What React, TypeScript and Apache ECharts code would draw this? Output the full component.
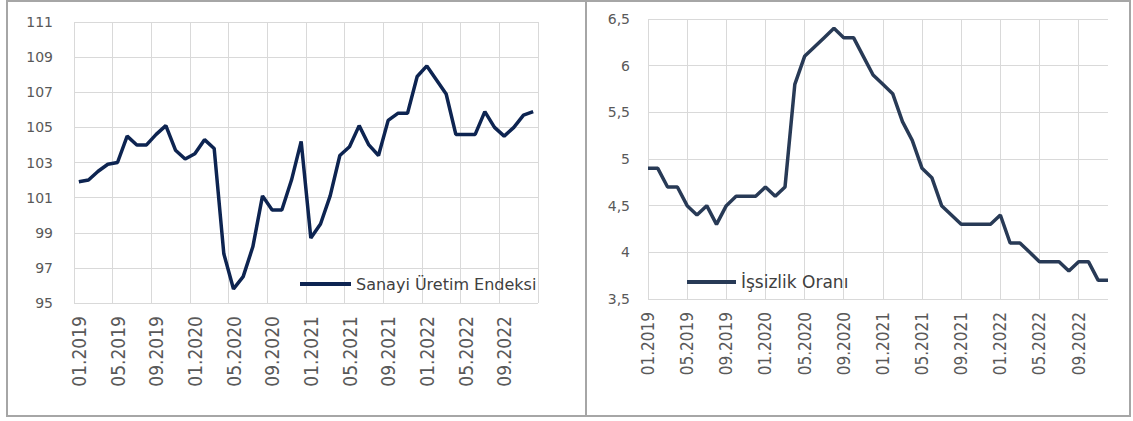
import React, { useEffect, useRef } from "react";
import * as echarts from "echarts";

const months: string[] = [];
for (const y of [2019, 2020, 2021, 2022]) {
  for (let m = 1; m <= 12; m++) months.push(String(m).padStart(2, "0") + "." + y);
}

const sanayiName = "Sanayi Üretim Endeksi";
const sanayiValues = [
  101.9, 102.0, 102.5, 102.9, 103.0, 104.5, 104.0, 104.0, 104.6, 105.1, 103.7, 103.2,
  103.5, 104.3, 103.8, 97.8, 95.8, 96.5, 98.2, 101.1, 100.3, 100.3, 102.0, 104.2,
  98.7, 99.5, 101.1, 103.4, 103.9, 105.1, 104.0, 103.4, 105.4, 105.8, 105.8, 107.9,
  108.5, 107.7, 106.9, 104.6, 104.6, 104.6, 105.9, 105.0, 104.5, 105.0, 105.7, 105.9,
];

const issizlikName = "İşsizlik Oranı";
const issizlikValues = [
  4.9, 4.9, 4.7, 4.7, 4.5, 4.4, 4.5, 4.3, 4.5, 4.6, 4.6, 4.6,
  4.7, 4.6, 4.7, 5.8, 6.1, 6.2, 6.3, 6.4, 6.3, 6.3, 6.1, 5.9,
  5.8, 5.7, 5.4, 5.2, 4.9, 4.8, 4.5, 4.4, 4.3, 4.3, 4.3, 4.3,
  4.4, 4.1, 4.1, 4.0, 3.9, 3.9, 3.9, 3.8, 3.9, 3.9, 3.7, 3.7,
];

const GRID = "#d9d9d9";
const LABEL = "#595959";
const NARROW = "'Liberation Sans Narrow', 'DejaVu Sans Condensed', 'Roboto Condensed', sans-serif";

export default function App() {
  const ref = useRef<HTMLDivElement>(null);
  useEffect(() => {
    if (!ref.current) return;
    const chart = echarts.init(ref.current, null, { renderer: "svg" });
    chart.setOption({
      animation: false,
      backgroundColor: "#ffffff",
      grid: [
        { left: 74, top: 22, width: 464, height: 281 },
        { left: 648, top: 19, width: 460, height: 280 },
      ],
      xAxis: [
        {
          type: "category",
          gridIndex: 0,
          data: months,
          boundaryGap: true,
          axisLine: { show: false },
          axisTick: { show: false },
          axisLabel: { interval: 3, rotate: 90, margin: 13, color: LABEL, fontFamily: NARROW, fontSize: 19 },
          splitLine: { show: true, interval: 3, lineStyle: { color: GRID, width: 1 } },
        },
        {
          type: "category",
          gridIndex: 1,
          data: months,
          boundaryGap: false,
          axisLine: { show: false },
          axisTick: { show: false },
          axisLabel: { interval: 3, rotate: 90, margin: 13, color: LABEL, fontFamily: NARROW, fontSize: 17 },
          splitLine: { show: true, interval: 3, lineStyle: { color: GRID, width: 1 } },
        },
      ],
      yAxis: [
        {
          type: "value",
          gridIndex: 0,
          min: 95,
          max: 111,
          interval: 2,
          axisLine: { show: false },
          axisTick: { show: false },
          axisLabel: { margin: 21, color: LABEL, fontFamily: "DejaVu Sans", fontSize: 14 },
          splitLine: { lineStyle: { color: GRID, width: 1 } },
        },
        {
          type: "value",
          gridIndex: 1,
          min: 3.5,
          max: 6.5,
          interval: 0.5,
          axisLine: { show: false },
          axisTick: { show: false },
          axisLabel: {
            margin: 18,
            color: LABEL,
            fontFamily: "DejaVu Sans",
            fontSize: 14,
            formatter: (v: number) => String(v).replace(".", ","),
          },
          splitLine: { lineStyle: { color: GRID, width: 1 } },
        },
      ],
      legend: [
        {
          data: [{ name: sanayiName, icon: "rect" }],
          left: 295,
          top: 269,
          itemWidth: 51,
          itemHeight: 4,
          textStyle: { color: "#404040", fontFamily: "DejaVu Sans", fontSize: 16, lineHeight: 20 },
        },
        {
          data: [{ name: issizlikName, icon: "rect" }],
          left: 682,
          top: 267,
          itemWidth: 49,
          itemHeight: 4,
          textStyle: { color: "#404040", fontFamily: "DejaVu Sans", fontSize: 17, lineHeight: 20 },
        },
      ],
      series: [
        {
          name: sanayiName,
          type: "line",
          xAxisIndex: 0,
          yAxisIndex: 0,
          data: sanayiValues,
          symbol: "none",
          color: "#0d2451",
          lineStyle: { width: 3.5, color: "#0d2451" },
        },
        {
          name: issizlikName,
          type: "line",
          xAxisIndex: 1,
          yAxisIndex: 1,
          data: issizlikValues,
          symbol: "none",
          color: "#283a56",
          lineStyle: { width: 3.5, color: "#283a56" },
        },
      ],
      graphic: [
        {
          type: "rect",
          shape: { x: 7, y: 1, width: 1123, height: 415 },
          style: { fill: "none", stroke: "#a6a6a6", lineWidth: 2 },
          silent: true,
        },
        {
          type: "line",
          shape: { x1: 586, y1: 1, x2: 586, y2: 416 },
          style: { stroke: "#a6a6a6", lineWidth: 2 },
          silent: true,
        },
      ],
    });
    return () => chart.dispose();
  }, []);
  return (
    <div
      ref={ref}
      style={{ position: "fixed", left: 0, top: 0, width: 1133, height: 421, background: "#fff" }}
    />
  );
}
